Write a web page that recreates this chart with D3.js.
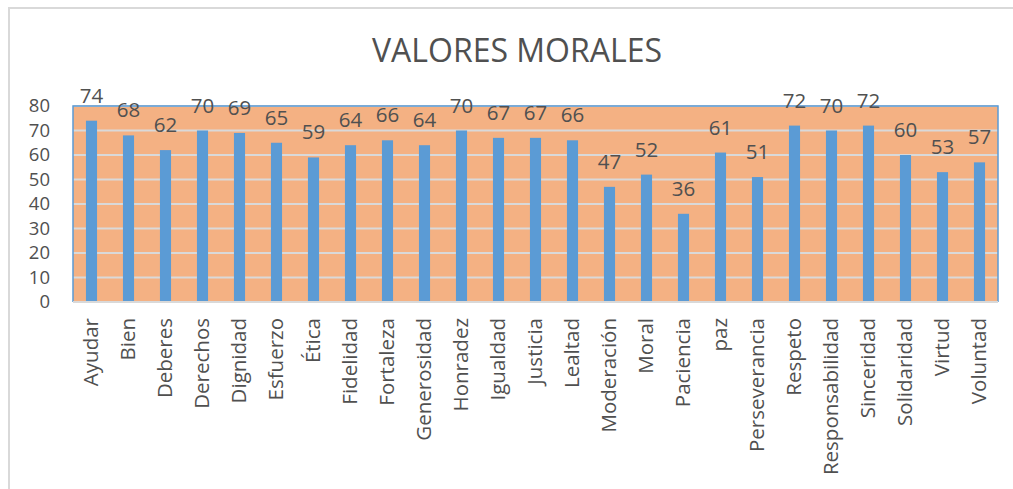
<!DOCTYPE html>
<html>
<head>
<meta charset="utf-8">
<script src="https://cdn.jsdelivr.net/npm/d3@7"></script>
<style>
  body { margin: 0; background: #fff; }
  text { font-family: "Open Sans", sans-serif; fill: #505050; }
</style>
</head>
<body>
<svg id="chart" width="1013" height="489"></svg>
<script>
var categories = ['Ayudar', 'Bien', 'Deberes', 'Derechos', 'Dignidad', 'Esfuerzo', 'Ética',
  'Fidelidad', 'Fortaleza', 'Generosidad', 'Honradez', 'Igualdad', 'Justicia', 'Lealtad',
  'Moderación', 'Moral', 'Paciencia', 'paz', 'Perseverancia', 'Respeto', 'Responsabilidad',
  'Sinceridad', 'Solidaridad', 'Virtud', 'Voluntad'];
var values = [74, 68, 62, 70, 69, 65, 59, 64, 66, 64, 70, 67, 67, 66, 47, 52, 36, 61, 51, 72, 70, 72, 60, 53, 57];
var yTicks = [0, 10, 20, 30, 40, 50, 60, 70, 80];
var title = 'VALORES MORALES';

var margin = { top: 106, left: 73, right: 15, bottom: 187 };
var W = 1013, H = 489;
var width = W - margin.left - margin.right;
var height = H - margin.top - margin.bottom;

var svg = d3.select('#chart');

// outer chart frame
svg.append('rect')
  .attr('x', 9).attr('y', 8)
  .attr('width', 1020).attr('height', 500)
  .attr('fill', '#fff')
  .attr('stroke', '#d9d9d9')
  .attr('stroke-width', 2);

svg.append('text')
  .attr('x', 517)
  .attr('y', 62)
  .attr('text-anchor', 'middle')
  .style('font-size', '32px')
  .text(title);

var g = svg.append('g')
  .attr('transform', 'translate(' + margin.left + ',' + margin.top + ')');

var xScale = d3.scaleBand()
  .domain(categories)
  .range([0, width])
  .paddingInner(0.7)
  .paddingOuter(0.35);

var yScale = d3.scaleLinear()
  .domain([0, 80])
  .range([height, 0]);

// plot background
g.append('rect')
  .attr('width', width)
  .attr('height', height)
  .attr('fill', '#f4b183');

// gridlines
g.selectAll('.grid')
  .data(yTicks.slice(1))
  .enter()
  .append('line')
  .attr('class', 'grid')
  .attr('x1', 0).attr('x2', width)
  .attr('y1', d => yScale(d)).attr('y2', d => yScale(d))
  .attr('stroke', '#d9d9d9')
  .attr('stroke-width', 2);

// plot border
g.append('path')
  .attr('d', 'M0,' + height + 'V0H' + width + 'V' + height)
  .attr('fill', 'none')
  .attr('stroke', '#5b9bd5')
  .attr('stroke-width', 1.5);

g.selectAll('.bar')
  .data(values)
  .enter()
  .append('rect')
  .attr('class', 'bar')
  .attr('x', (d, i) => xScale(categories[i]))
  .attr('width', xScale.bandwidth())
  .attr('y', d => yScale(d))
  .attr('height', d => height - yScale(d))
  .attr('fill', '#5b9bd5');

// bottom axis line
g.append('line')
  .attr('x1', 0).attr('x2', width)
  .attr('y1', height).attr('y2', height)
  .attr('stroke', '#d9d9d9')
  .attr('stroke-width', 2);

// data labels
g.selectAll('.label')
  .data(values)
  .enter()
  .append('text')
  .attr('class', 'label')
  .attr('x', (d, i) => xScale(categories[i]) + xScale.bandwidth() / 2)
  .attr('y', d => yScale(d) - 18)
  .attr('text-anchor', 'middle')
  .style('font-size', '20.5px')
  .text(d => d);

// y axis
var yAxis = g.append('g')
  .call(d3.axisLeft(yScale).tickValues(yTicks).tickSize(0).tickPadding(23));
yAxis.select('.domain').remove();
yAxis.selectAll('text')
  .style('font-size', '18.5px')
  .style('font-family', '"Open Sans", sans-serif')
  .attr('fill', '#505050');

// x axis labels (rotated)
g.selectAll('.xlab')
  .data(categories)
  .enter()
  .append('text')
  .attr('class', 'xlab')
  .attr('transform', d => 'translate(' + (xScale(d) + xScale.bandwidth() / 2) + ',' + (height + 16) + ') rotate(-90)')
  .attr('dy', '0.32em')
  .attr('text-anchor', 'end')
  .style('font-size', '20.5px')
  .text(d => d);
</script>
</body>
</html>
